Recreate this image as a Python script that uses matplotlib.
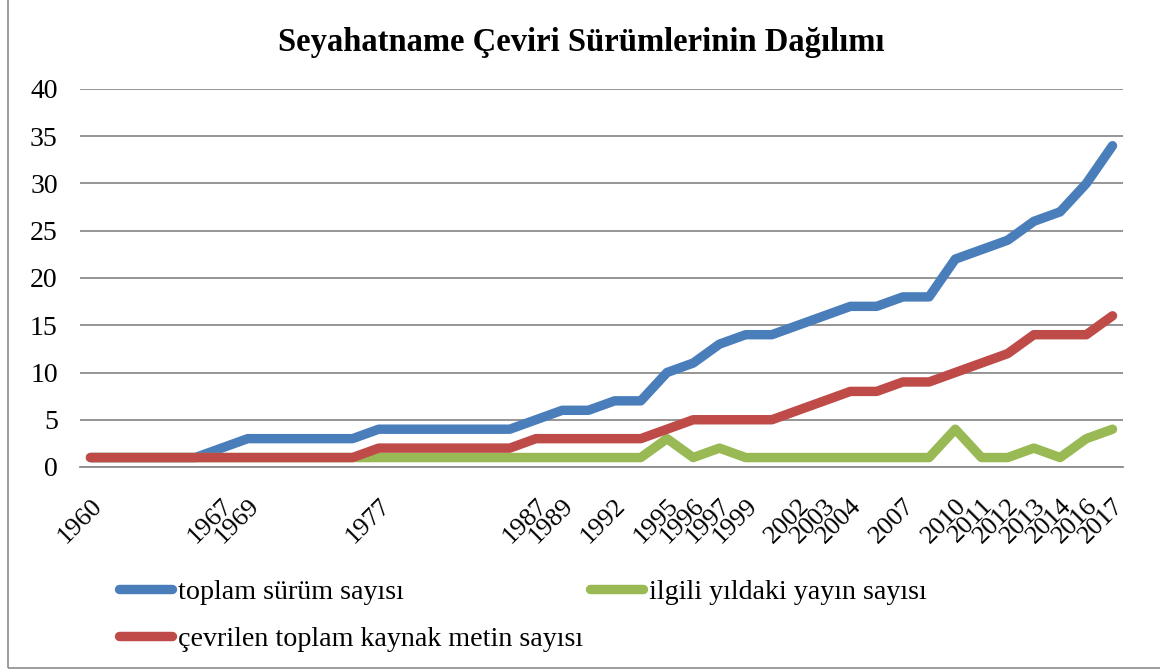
import numpy as np
import matplotlib.pyplot as plt
from matplotlib.patches import Rectangle

# kategoriler (etiketsiz kategoriler bos)
yillar = ['1960', '', '', '', '', '1967', '1969', '', '', '', '', '1977',
          '', '', '', '', '', '1987', '1989', '', '1992', '', '1995', '1996',
          '1997', '1999', '', '2002', '2003', '2004', '', '2007', '', '2010',
          '2011', '2012', '2013', '2014', '2016', '2017']

toplam_surum = [1, 1, 1, 1, 1, 2, 3, 3, 3, 3, 3, 4, 4, 4, 4, 4, 4, 5, 6, 6,
                7, 7, 10, 11, 13, 14, 14, 15, 16, 17, 17, 18, 18, 22, 23, 24,
                26, 27, 30, 34]
yillik_yayin = [1] * 22 + [3, 1, 2] + [1] * 8 + [4, 1, 1, 2, 1, 3, 4]
kaynak_metin = [1] * 11 + [2] * 6 + [3] * 5 + [4, 5, 5, 5, 5, 6, 7, 8, 8, 9,
                                              9, 10, 11, 12, 14, 14, 14, 16]

plt.rcParams['font.family'] = ['Liberation Serif', 'DejaVu Serif']

fig = plt.figure(figsize=(11.6, 6.71), dpi=100)
ax = fig.add_axes([80/1160, 1 - 467/671, 1043/1160, 378/671])

x = np.arange(len(yillar))
lw = 6.8
l1, = ax.plot(x, toplam_surum, color='#4A7EBB', lw=lw, solid_capstyle='round',
              label='toplam sürüm sayısı')
l2, = ax.plot(x, yillik_yayin, color='#98B954', lw=lw, solid_capstyle='round',
              label='ilgili yıldaki yayın sayısı')
l3, = ax.plot(x, kaynak_metin, color='#BE4B48', lw=lw, solid_capstyle='round',
              label='çevrilen toplam kaynak metin sayısı')

ax.set_xlim(-0.4, len(yillar) - 0.6)
ax.set_ylim(0, 40)
ax.set_yticks(range(0, 41, 5))
ax.set_xticks(x)
ax.set_xticklabels(yillar, rotation=45, ha='right', va='top',
                   rotation_mode='anchor')
ax.tick_params(axis='both', length=0)
ax.tick_params(axis='x', pad=20, labelsize=19)
ax.tick_params(axis='y', pad=16, labelsize=20)
ax.grid(axis='y', color='#8C8C8C', lw=1.3)
ax.set_axisbelow(True)
for s in ['top', 'right', 'left']:
    ax.spines[s].set_visible(False)
ax.spines['bottom'].set_color('#8C8C8C')
ax.spines['bottom'].set_linewidth(1.3)

fig.text(0.501, 1 - 43/671, 'Seyahatname Çeviri Sürümlerinin Dağılımı',
         ha='center', va='center', fontsize=23.5, fontweight='bold')

fig.legend(handles=[l1, l3, l2], loc='upper left',
           bbox_to_anchor=(105/1160, 1 - 565/671), ncol=2, frameon=False,
           fontsize=20.2, handlelength=1.9, handletextpad=0.2,
           columnspacing=0.25, labelspacing=0.76, borderpad=0)

fig.patches.append(Rectangle((8/1160, 3/671), 1.2, 1.2, transform=fig.transFigure,
                             fill=False, edgecolor='#8C8C8C', lw=1.2))

fig.savefig('out.png', dpi=100)
